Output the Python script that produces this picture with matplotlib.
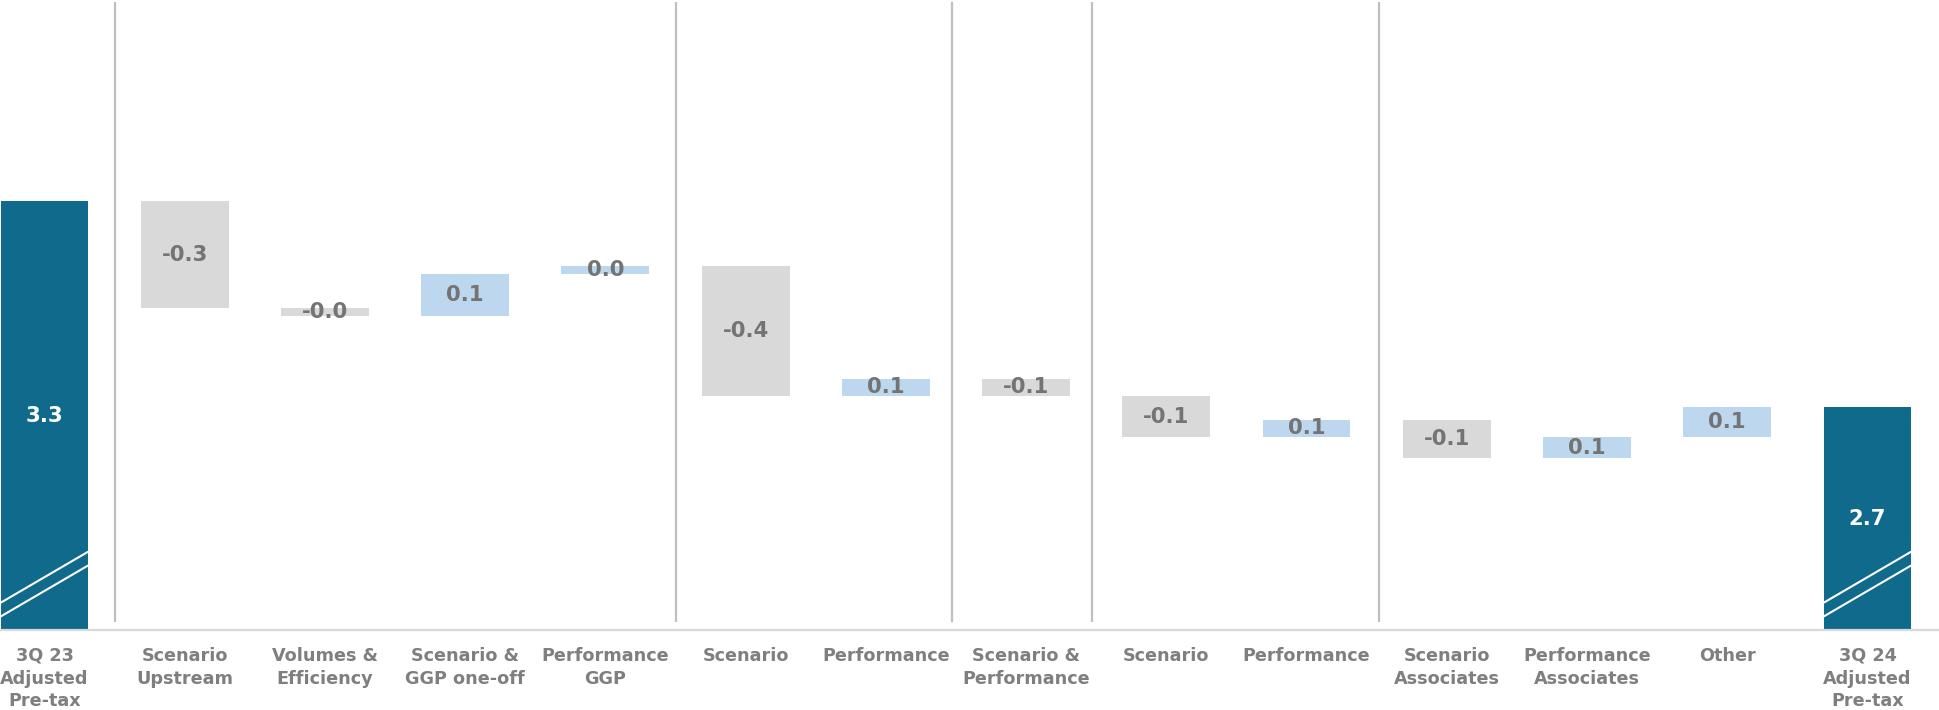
import numpy as np
import matplotlib.pyplot as plt

# Waterfall: 3Q 23 -> 3Q 24 adjusted pre-tax result
categories = ['3Q 23\nAdjusted\nPre-tax', 'Scenario\nUpstream', 'Volumes &\nEfficiency',
              'Scenario &\nGGP one-off', 'Performance\nGGP', 'Scenario', 'Performance',
              'Scenario &\nPerformance', 'Scenario', 'Performance', 'Scenario\nAssociates',
              'Performance\nAssociates', 'Other', '3Q 24\nAdjusted\nPre-tax']
start_total = 3.33
changes = [-0.335, -0.023, 0.131, 0.023, -0.405, 0.054, -0.054,
           -0.128, 0.054, -0.12, 0.066, 0.093]
group_breaks = [0.5, 4.5, 6.47, 7.47, 9.52]

TOTAL_COLOR = '#0f6a8b'
UP_COLOR = '#bdd7ee'
DOWN_COLOR = '#d9d9d9'
TEXT_COLOR = '#747474'
TICK_COLOR = '#7f7f7f'

y_floor, y_top = 1.99, 3.952
end_total = start_total + sum(changes)

# Build bar geometry
x = np.arange(len(categories))
bottoms, heights, colors, labels = [], [], [], []
bottoms.append(y_floor)
heights.append(start_total - y_floor)
colors.append(TOTAL_COLOR)
labels.append(start_total)
level = start_total
for c in changes:
    new_level = level + c
    bottoms.append(min(level, new_level))
    heights.append(abs(c))
    colors.append(UP_COLOR if c > 0 else DOWN_COLOR)
    labels.append(c)
    level = new_level
bottoms.append(y_floor)
heights.append(end_total - y_floor)
colors.append(TOTAL_COLOR)
labels.append(end_total)

fig = plt.figure(figsize=(19.39, 7.10), dpi=100)
ax = fig.add_axes([0, 1 - 630 / 710, 1, 628 / 710])

width = 0.626
ax.bar(x, heights, bottom=bottoms, width=width, color=colors, zorder=2)

# Group separators
ax.vlines(group_breaks, y_floor + 0.025, y_top, color='#bfbfbf', lw=1.6, zorder=1)

# Value labels
for i, (b, h, v) in enumerate(zip(bottoms, heights, labels)):
    is_total = i in (0, len(categories) - 1)
    ax.text(x[i], b + h / 2, f'{v:.1f}', ha='center', va='center',
            fontsize=15.3, fontweight='bold', family='DejaVu Sans',
            color='white' if is_total else TEXT_COLOR, zorder=4)

# Axis-break marks on the total bars
hw = width / 2
for i in (0, len(categories) - 1):
    for lo, hi in ((0.085, 0.245), (0.042, 0.202)):
        ax.plot([x[i] - hw, x[i] + hw], [y_floor + lo, y_floor + hi],
                color='white', lw=1.5, zorder=3, solid_capstyle='butt')

ax.set_xlim(-0.317, 13.51)
ax.set_ylim(y_floor, y_top)
ax.set_yticks([])
ax.set_xticks(x)
ax.set_xticklabels(categories, fontsize=12.7, fontweight='bold', color=TICK_COLOR,
                   family='DejaVu Sans', linespacing=1.35)
ax.tick_params(axis='x', length=0, pad=12)
for side in ('top', 'left', 'right'):
    ax.spines[side].set_visible(False)
ax.spines['bottom'].set_color('#d9d9d9')
ax.spines['bottom'].set_linewidth(1.6)

fig.savefig('out.png', dpi=100, facecolor='white')
